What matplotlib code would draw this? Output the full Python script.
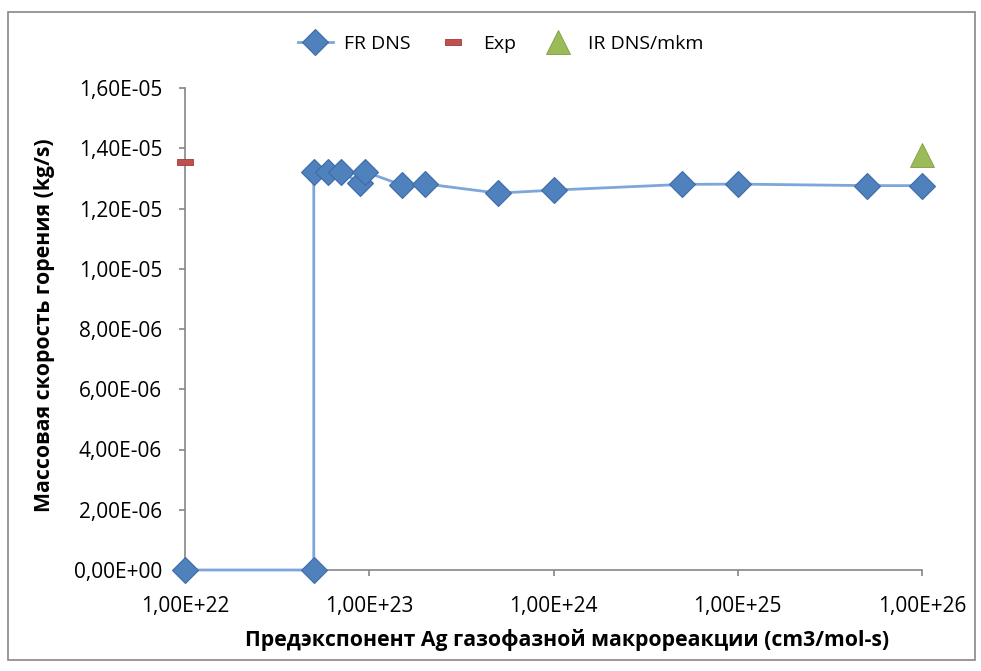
import matplotlib
matplotlib.use("Agg")
import matplotlib.pyplot as plt
from matplotlib.patches import Rectangle
from matplotlib.ticker import FuncFormatter, FixedLocator, NullLocator

plt.rcParams['font.family'] = ['Open Sans', 'DejaVu Sans']

fr_x = [1e22, 5e22, 5e22, 6e22, 7e22, 8.9e22, 9.5e22, 1.5e23, 2e23, 5e23, 1e24, 5e24, 1e25, 5e25, 1e26]
fr_y = [0.0, 0.0, 1.322e-5, 1.322e-5, 1.322e-5, 1.285e-5, 1.322e-5, 1.278e-5, 1.282e-5, 1.251e-5, 1.261e-5, 1.280e-5, 1.281e-5, 1.276e-5, 1.276e-5]
exp_x = [1e22]
exp_y = [1.354e-5]
ir_x = [1e26]
ir_y = [1.378e-5]

y_ticks = [0, 2e-6, 4e-6, 6e-6, 8e-6, 1e-5, 1.2e-5, 1.4e-5, 1.6e-5]
x_ticks = [1e22, 1e23, 1e24, 1e25, 1e26]

fig = plt.figure(figsize=(9.81, 6.71), dpi=100)
ax = fig.add_axes([185/981, 1-570/671, (922-185)/981, (570-88)/671])

fig.patches.append(Rectangle((8/981, 1-660/671), (975-8)/981, (660-12)/671,
                             transform=fig.transFigure, fill=False,
                             edgecolor='#868686', linewidth=1.2))

blue = '#4F81BD'
ax.plot(fr_x, fr_y, color='#7EA6DA', linewidth=2, marker='D', markersize=13,
        markerfacecolor=blue, markeredgecolor='#3E6CA8', markeredgewidth=0.8,
        label='FR DNS', zorder=3, clip_on=False)
rect = [(-1, -0.35), (1, -0.35), (1, 0.35), (-1, 0.35), (-1, -0.35)]
ax.plot(exp_x, exp_y, linestyle='none', marker=rect, markersize=11,
        markerfacecolor='#C0504D', markeredgecolor='#9E3B38', markeredgewidth=0.6,
        label='Exp', zorder=4, clip_on=False)
ax.plot(ir_x, ir_y, linestyle='none', marker='^', markersize=17,
        markerfacecolor='#9BBB59', markeredgecolor='#7E9B43', markeredgewidth=0.6,
        label='IR DNS/mkm', zorder=4, clip_on=False)

ax.set_xscale('log')
ax.set_xlim(1e22, 1e26)
ax.set_ylim(0, 1.6e-5)
ax.xaxis.set_major_locator(FixedLocator(x_ticks))
ax.xaxis.set_minor_locator(NullLocator())
ax.yaxis.set_major_locator(FixedLocator(y_ticks))

def fmt(v, pos=None):
    s = '%.2E' % v
    mant, ex = s.split('E')
    sign = ex[0]
    e = int(ex[1:])
    return '%s%s%s%02d' % (mant.replace('.', ','), 'E', sign, e)

ax.xaxis.set_major_formatter(FuncFormatter(fmt))
ax.yaxis.set_major_formatter(FuncFormatter(fmt))

for s in ['top', 'right']:
    ax.spines[s].set_visible(False)
for s in ['left', 'bottom']:
    ax.spines[s].set_color('#868686')
    ax.spines[s].set_linewidth(1.2)
ax.tick_params(axis='both', colors='#868686', labelcolor='black', labelsize=15,
               length=4.5, width=1.2, direction='out')
ax.tick_params(axis='x', pad=14)
ax.tick_params(axis='y', pad=12)

xl = ax.set_xlabel('Предэкспонент Ag газофазной макрореакции (cm3/mol-s)',
                   fontsize=15.3, fontweight='bold', va='center', ha='center')
yl = ax.set_ylabel('Массовая скорость горения (kg/s)', fontsize=15.3,
                   fontweight='bold', va='center', ha='center')
ax.xaxis.set_label_coords(0.519, (570 - 640) / 482)
ax.yaxis.set_label_coords((45 - 185) / 737, (570 - 325) / 482)

leg = fig.legend(loc='center', bbox_to_anchor=(0.51, 1-44/671), ncol=3,
                 frameon=False, fontsize=14, handlelength=1.8,
                 columnspacing=1.3, handletextpad=0.6)

fig.savefig('out.png', dpi=100)
